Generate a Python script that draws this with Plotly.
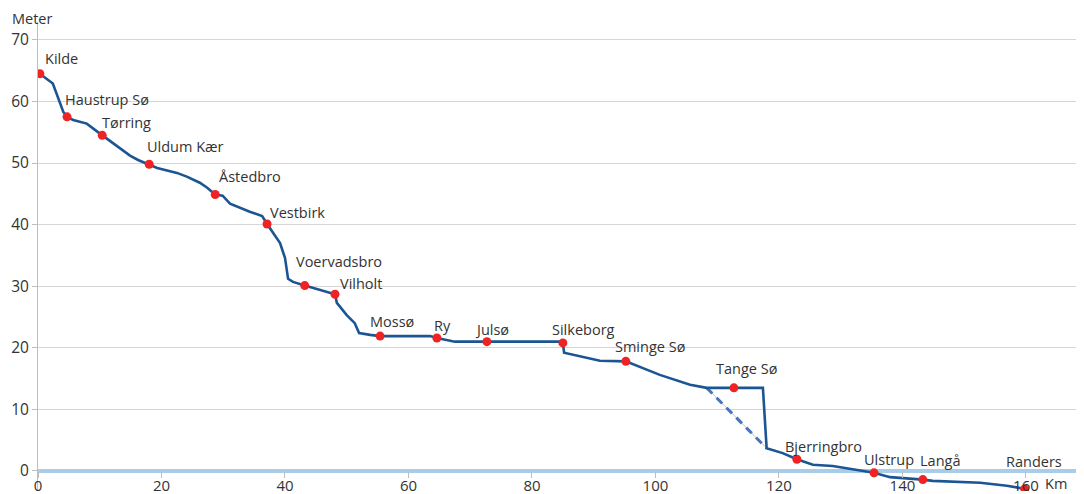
import plotly.graph_objects as go

# River profile (km from source, elevation in metres)
path_km = [0.3, 2.4, 4.1, 4.7, 5.7, 7.9, 9.6, 10.4, 12.8, 14.9, 16.2, 18.0, 19.3, 22.5, 24.1,
           26.2, 27.4, 28.7, 29.9, 31.1, 32.7, 34.3, 36.3, 37.1, 39.2, 40.0, 40.5, 41.3, 43.2,
           46.8, 48.1, 48.4, 50.0, 51.3, 52.0, 53.8, 55.4, 63.5, 64.6, 67.5, 72.7, 84.5, 85.0,
           85.2, 91.0, 93.8, 95.2, 100.7, 105.6, 108.3, 112.7, 117.4, 118.0, 120.6, 122.9,
           125.5, 128.7, 131.9, 135.4, 138.0, 141.2, 143.3, 144.9, 152.6, 156.9, 159.8]
path_m = [64.5, 62.9, 58.3, 57.5, 57.0, 56.4, 55.1, 54.5, 52.8, 51.2, 50.5, 49.8, 49.2, 48.4, 47.8,
          46.8, 46.0, 44.9, 44.7, 43.4, 42.7, 42.1, 41.4, 40.1, 37.0, 34.6, 31.2, 30.7, 30.1,
          29.1, 28.7, 27.3, 25.3, 24.0, 22.4, 22.1, 21.9, 21.9, 21.6, 21.0, 21.0, 21.0, 20.8,
          19.2, 17.9, 17.9, 17.8, 15.6, 14.0, 13.5, 13.5, 13.5, 3.7, 2.9, 1.9,
          1.0, 0.8, 0.3, -0.3, -1.0, -1.2, -1.4, -1.6, -1.9, -2.4, -2.9]

# Dashed shortcut past Tange Sø
bypass_km = [108.3, 118.0]
bypass_m = [13.5, 3.7]

# Stations
station_names = ["Kilde", "Haustrup Sø", "Tørring", "Uldum Kær", "Åstedbro", "Vestbirk",
                 "Voervadsbro", "Vilholt", "Mossø", "Ry", "Julsø", "Silkeborg", "Sminge Sø",
                 "Tange Sø", "Bjerringbro", "Ulstrup", "Langå", "Randers"]
station_km = [0.3, 4.7, 10.4, 18.0, 28.7, 37.1, 43.2, 48.1, 55.4, 64.6, 72.7, 85.0, 95.2,
              112.7, 122.9, 135.4, 143.3, 159.8]
station_m = [64.5, 57.5, 54.5, 49.8, 44.9, 40.1, 30.1, 28.7, 21.9, 21.6, 21.0, 20.8, 17.8,
             13.5, 1.9, -0.3, -1.4, -2.9]

x_ticks = [0, 20, 40, 60, 80, 100, 120, 140, 160]
y_ticks = [0, 10, 20, 30, 40, 50, 60, 70]

# label offsets in pixels (left edge dx, centre dy)
label_offsets = [(3, 15), (-4, 17), (-2, 13), (-4, 18), (2, 18), (1, 12), (-11, 24), (3, 11),
                 (-12, 15), (-5, 12), (-14, 12), (-13, 13), (-13, 15), (-20, 19), (-14, 13),
                 (-12, 13), (-5, 19), (-21, 27)]

FONT = "Open Sans"
TXT = "#333333"

fig = go.Figure()
fig.add_trace(go.Scatter(x=bypass_km, y=bypass_m, mode="lines",
                         line=dict(color="#c4c4c4", width=1), hoverinfo="skip"))
fig.add_trace(go.Scatter(x=bypass_km, y=bypass_m, mode="lines",
                         line=dict(color="#4674bf", width=3, dash="8px,6px"), hoverinfo="skip"))
fig.add_trace(go.Scatter(x=path_km, y=path_m, mode="lines",
                         line=dict(color="#1b5593", width=2.6)))
fig.add_trace(go.Scatter(x=station_km, y=station_m, mode="markers",
                         marker=dict(color="#ee2424", size=9, line=dict(width=0))))

for name, xk, ym, (dx, dy) in zip(station_names, station_km, station_m, label_offsets):
    fig.add_annotation(x=xk, y=ym, text=name, showarrow=False, xanchor="left", yanchor="middle",
                       xshift=dx, yshift=dy, font=dict(family=FONT, size=14.5, color=TXT))

fig.add_annotation(x=-0.0268, y=1.0085, xref="paper", yref="paper", text="Meter",
                   showarrow=False, xanchor="left", yanchor="middle",
                   font=dict(family=FONT, size=14.5, color=TXT))
fig.add_annotation(x=162.8, y=-2.1, text="Km", showarrow=False, xanchor="left", yanchor="middle",
                   font=dict(family=FONT, size=14.5, color=TXT))

# page body has an 8px margin: figure spans 8..1084 x 8..494
fig.update_layout(
    width=1076, height=486,
    margin=dict(l=30, r=0, t=14, b=3),
    paper_bgcolor="white", plot_bgcolor="white",
    showlegend=False,
    font=dict(family=FONT, size=14, color=TXT),
    xaxis=dict(range=[0, 169.4], tickvals=x_ticks, showgrid=False, zeroline=False,
               showline=False, ticks="outside", ticklen=6, tickcolor="#bdbdbd",
               anchor="free", position=(491 - 471) / 469, automargin=False,
               ticklabelstandoff=-5,
               tickfont=dict(family=FONT, size=15, color=TXT)),
    yaxis=dict(range=[-3.25, 72.9], tickvals=y_ticks, showgrid=True, gridcolor="#d6d6d6",
               gridwidth=1, zeroline=True, zerolinecolor="#a9cde9", zerolinewidth=4,
               showline=True, linecolor="#bdbdbd", linewidth=1, ticks="outside", ticklen=5,
               tickcolor="#bdbdbd", automargin=False,
               tickfont=dict(family=FONT, size=15.5, color=TXT)),
)

fig.write_html("out.html")
